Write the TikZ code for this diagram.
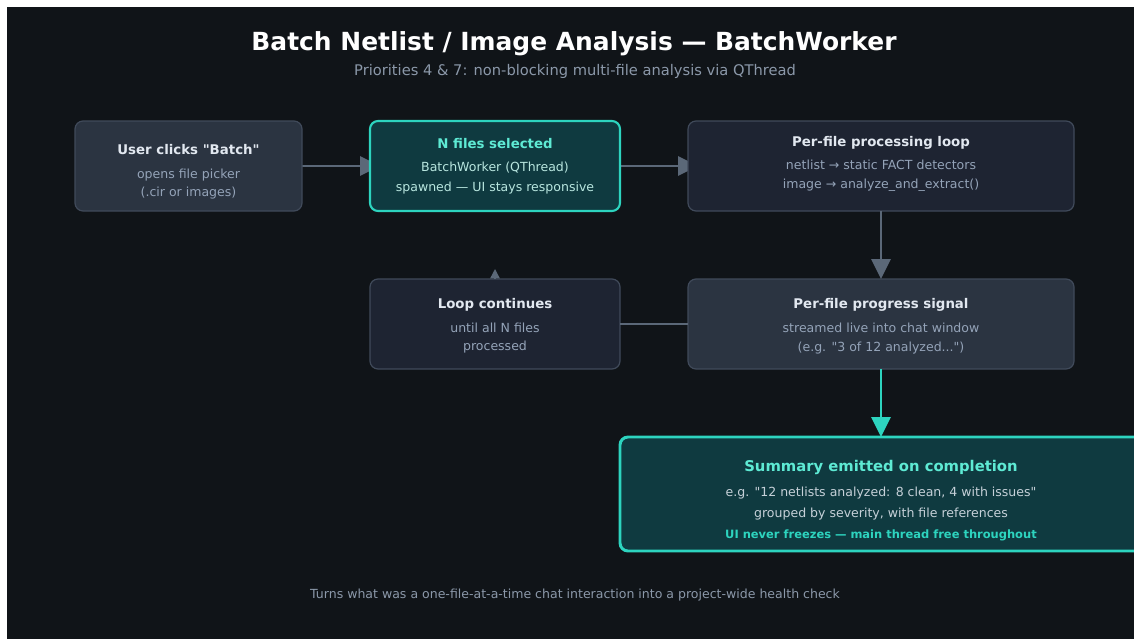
\documentclass[tikz,border=0pt]{standalone}
\usepackage{fontspec}
\setmainfont{DejaVu Sans}[Ligatures=TeXOff]
\usepackage{xcolor}
\usetikzlibrary{positioning, arrows.meta}

\definecolor{bg}{HTML}{101418}
\definecolor{slate}{HTML}{2B3441}
\definecolor{navy}{HTML}{1E2432}
\definecolor{rim}{HTML}{404A5A}
\definecolor{wire}{HTML}{5B6878}
\definecolor{mint}{HTML}{2DD4BF}
\definecolor{mintbg}{HTML}{0F3A40}
\definecolor{headtxt}{HTML}{E2E8F0}
\definecolor{subtxt}{HTML}{94A3B8}
\definecolor{minthead}{HTML}{5EEAD4}
\definecolor{mintsub}{HTML}{B8E6DF}
\definecolor{sumsub}{HTML}{C5D0D8}
\definecolor{note}{HTML}{8B98A9}

\pgfdeclarelayer{canvas}
\pgfdeclarelayer{wires}
\pgfsetlayers{canvas,wires,main}

\newcommand{\hd}[1]{{\fontsize{10}{12}\selectfont\bfseries\color{headtxt}#1}}
\newcommand{\hdm}[1]{{\fontsize{10}{12}\selectfont\bfseries\color{minthead}#1}}
% invisible struts that push a text block down (lift) or up (sink)
\newcommand{\lift}[1]{\rule{0pt}{#1}}
\newcommand{\sink}[1]{\rule[-#1]{0pt}{#1}}

\begin{document}
\begin{tikzpicture}[
  x=0.75pt, y=-0.75pt,
  node distance=51pt and 51pt,
  every node/.style={font=\fontsize{9.4}{14.5}\selectfont},
  box/.style={rectangle, rounded corners=6pt, draw=rim, line width=0.9pt, outer sep=0pt,
              minimum height=67.5pt, align=center, text=subtxt},
  litebox/.style={box, fill=slate},
  darkbox/.style={box, fill=navy},
  mintbox/.style={box, draw=mint, fill=mintbg, line width=1.6pt, text=mintsub},
  arr/.style={-{Triangle[length=15pt, width=14.5pt]}, line width=1.5pt, draw=wire},
  tick/.style={-{Triangle[length=7pt, width=7pt]}, line width=1pt, draw=wire}
]
% ── canvas ─────────────────────────────────────
\useasboundingbox (0,0) rectangle (1134,639);
\clip (0,0) rectangle (1134,639);
\begin{pgfonlayer}{canvas}
  \fill[white] (0,0) rectangle (1134,639);
  \fill[bg] (7,7) rectangle (1134,639);
\end{pgfonlayer}
% ── heading ────────────────────────────────────
\node[anchor=base, text=white, font=\fontsize{18.7}{22}\selectfont\bfseries] (ttl) at (574,50)
  {Batch Netlist / Image Analysis — BatchWorker};
\node[anchor=base, text=note, font=\fontsize{11}{13}\selectfont] (sub) at (575,75)
  {Priorities 4 \& 7: non-blocking multi-file analysis via QThread};
% ── top row ────────────────────────────────────
\node[litebox, minimum width=170.25pt, font=\fontsize{9.4}{13.5}\selectfont]
  (pick) at (188.5,166)
  {\lift{16pt}\hd{User clicks "Batch"}\\[4pt] opens file picker\\ (.cir or images)};
\node[mintbox, minimum width=187.5pt, right=of pick] (sel)
  {\hdm{N files selected}\\[3pt] BatchWorker (QThread)\\ spawned — UI stays responsive};
\node[darkbox, minimum width=289.5pt, right=of sel] (proc)
  {\hd{Per-file processing loop}\\[3pt] netlist → static FACT detectors\\ image → analyze\_and\_extract()\sink{5.5pt}};
% heads tuck under the next box
\begin{pgfonlayer}{wires}
  \draw[arr, shorten >=-7.5pt] (pick) -- (sel);
  \draw[arr, shorten >=-7.5pt] (sel) -- (proc);
\end{pgfonlayer}
% ── loop row ───────────────────────────────────
\node[litebox, minimum width=289.5pt, below=of proc] (prog)
  {\lift{10.5pt}\hd{Per-file progress signal}\\[3.5pt] streamed live into chat window\\ (e.g. "3 of 12 analyzed...")};
\node[darkbox, minimum width=187.5pt, left=of prog, font=\fontsize{9.4}{13.5}\selectfont] (loop)
  {\lift{10.5pt}\hd{Loop continues}\\[4.5pt] until all N files\\ processed};
\coordinate[above=7.5pt of loop] (up);
\draw[arr] (proc) -- (prog);
\draw[wire, line width=1.5pt] (prog) -- (loop);
\draw[tick] (loop) -- (up);
% ── result ─────────────────────────────────────
\node[mintbox, line width=2.2pt, text=sumsub, minimum width=391.5pt, minimum height=85.5pt,
      below=of prog] (sum)
  {\lift{18pt}{\fontsize{11.1}{13}\selectfont\bfseries\color{minthead}Summary emitted on completion}\\[4.75pt]
   e.g. "12 netlists analyzed: 8 clean, 4 with issues"\\[0.75pt]
   grouped by severity, with file references\\[1.5pt]
   {\fontsize{8.6}{10}\selectfont\bfseries\color{mint}UI never freezes — main thread free throughout}};
\draw[arr, draw=mint] (prog) -- (sum);
% ── footnote ───────────────────────────────────
\node[anchor=base, text=note, font=\fontsize{9.4}{11}\selectfont] (foot) at (575,598)
  {Turns what was a one-file-at-a-time chat interaction into a project-wide health check};
\end{tikzpicture}
\end{document}
